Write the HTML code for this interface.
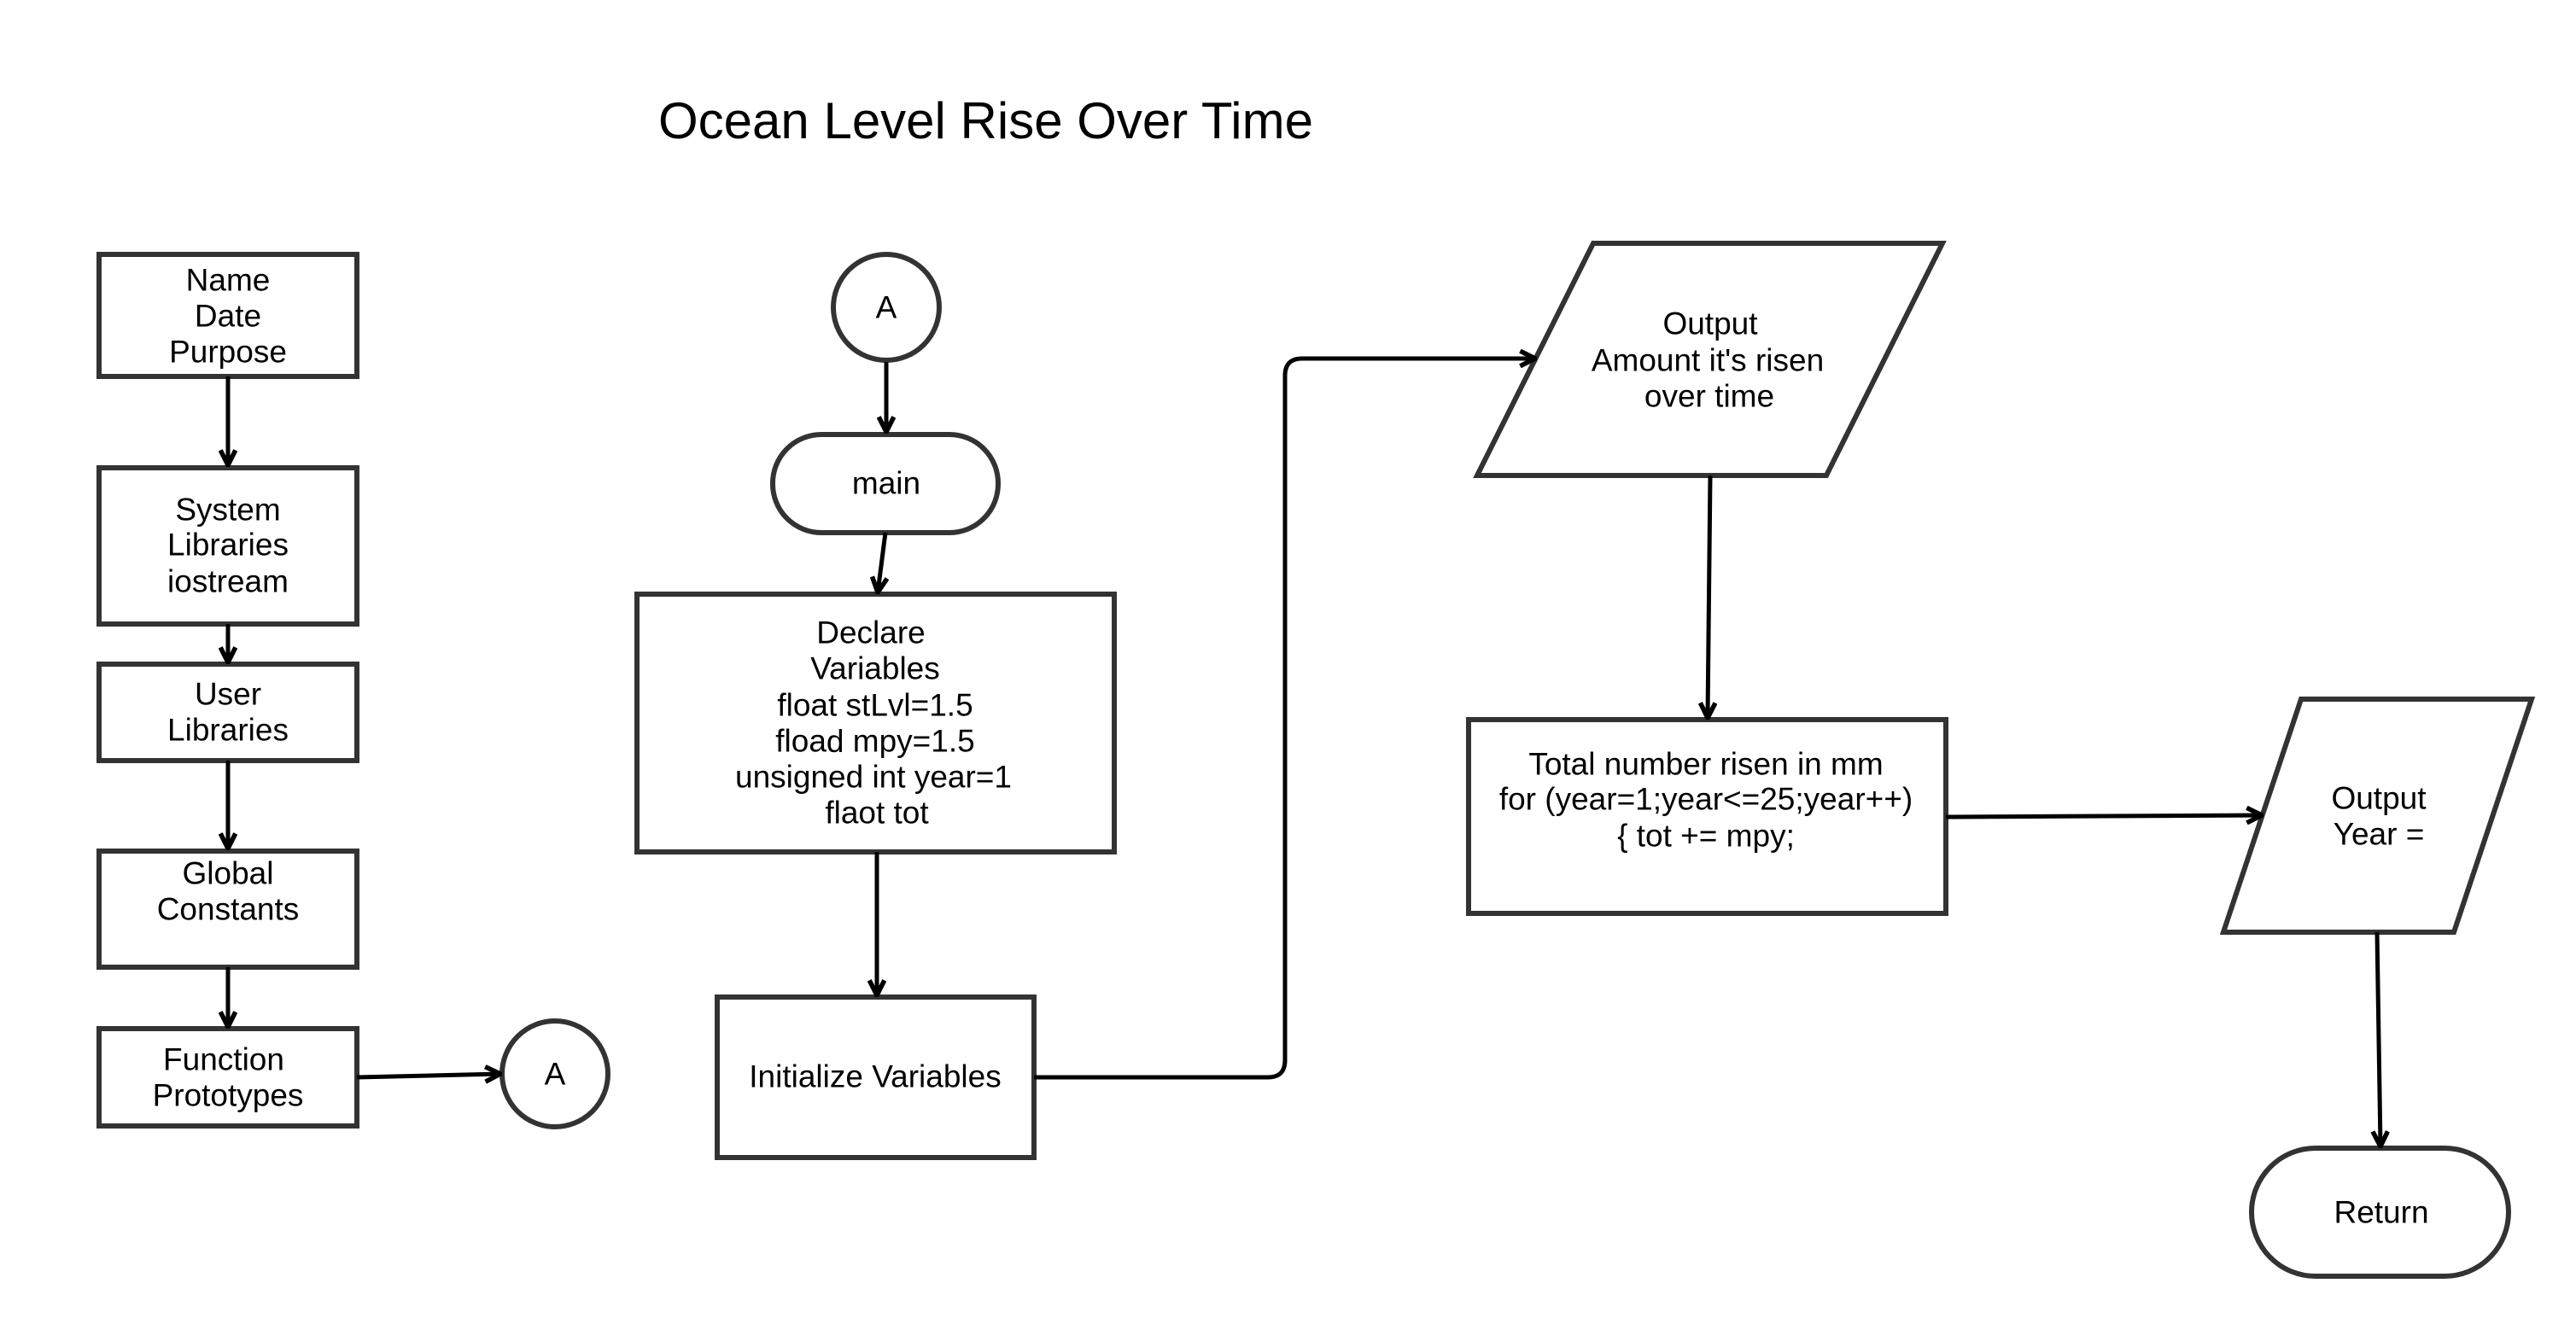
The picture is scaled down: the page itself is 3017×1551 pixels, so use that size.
<!DOCTYPE html>
<html><head><meta charset="utf-8"><style>html,body{margin:0;padding:0;background:#fff}svg{display:block}</style></head>
<body>
<svg width="3017" height="1551" viewBox="0 0 3017 1551" xmlns="http://www.w3.org/2000/svg" font-family="Liberation Sans, Arial, sans-serif">
<defs>
<marker id="ar" viewBox="0 0 20 20" refX="18" refY="10" markerWidth="22" markerHeight="22" markerUnits="userSpaceOnUse" orient="auto">
<path d="M2,2 L18,10 L2,18" fill="none" stroke="#000" stroke-width="5"/>
</marker>
</defs>
<rect width="3017" height="1551" fill="#fff"/>
<text x="771" y="162" font-size="60" fill="#000">Ocean Level Rise Over Time</text>

<g fill="#fff" stroke="#333" stroke-width="6">
<rect x="116" y="298" width="302" height="143"/>
<rect x="116" y="548" width="302" height="183"/>
<rect x="116" y="778" width="302" height="113"/>
<rect x="116" y="997" width="302" height="136"/>
<rect x="116" y="1205" width="302" height="114"/>
<circle cx="650" cy="1258" r="62"/>
<circle cx="1038" cy="360" r="62"/>
<rect x="905" y="509" width="264" height="115" rx="57"/>
<rect x="746" y="696" width="559" height="302"/>
<rect x="840" y="1168" width="371" height="188"/>
<polygon points="1866,285 2275,285 2139,557 1730,557"/>
<rect x="1720" y="843" width="559" height="227"/>
<polygon points="2695,819 2965,819 2874,1092 2604,1092"/>
<rect x="2637" y="1345" width="301" height="150" rx="75"/>
</g>

<g stroke="#000" stroke-width="5" fill="none" marker-end="url(#ar)">
<line x1="267" y1="441" x2="267" y2="545"/>
<line x1="267" y1="731" x2="267" y2="776"/>
<line x1="267" y1="891" x2="267" y2="994"/>
<line x1="267" y1="1133" x2="267" y2="1203"/>
<line x1="418" y1="1262" x2="586" y2="1258"/>
<line x1="1038" y1="424" x2="1038" y2="506"/>
<line x1="1037" y1="624" x2="1028" y2="694"/>
<line x1="1027" y1="998" x2="1027" y2="1166"/>
<path d="M1211,1262 L1485,1262 Q1505,1262 1505,1242 L1505,440 Q1505,420 1525,420 L1798,420"/>
<line x1="2003" y1="557" x2="2000" y2="841"/>
<line x1="2279" y1="957" x2="2649" y2="955"/>
<line x1="2784" y1="1092" x2="2788" y2="1343"/>
</g>

<g font-size="37" fill="#000" text-anchor="middle" dominant-baseline="central">
<text x="267" y="328">Name</text><text x="267" y="370">Date</text><text x="267" y="412">Purpose</text>
<text x="267" y="597">System</text><text x="267" y="638">Libraries</text><text x="267" y="681">iostream</text>
<text x="267" y="813">User</text><text x="267" y="855">Libraries</text>
<text x="267" y="1023">Global</text><text x="267" y="1065">Constants</text>
<text x="262" y="1241">Function</text><text x="267" y="1283">Prototypes</text>
<text x="650" y="1258">A</text>
<text x="1038" y="360">A</text>
<text x="1038" y="566">main</text>
<text x="1020" y="741">Declare</text><text x="1025" y="783">Variables</text><text x="1025" y="826">float stLvl=1.5</text><text x="1025" y="868">floa<tspan>d</tspan> mpy=1.5</text><text x="1023" y="910">unsigned int year=1</text><text x="1027" y="952">flaot tot</text>
<text x="1025" y="1261">Initialize Variables</text>
<text x="2003" y="379">Output</text><text x="2000" y="422">Amount it's risen</text><text x="2002" y="464">over time</text>
<text x="1998" y="895">Total number risen in mm</text><text x="1998" y="936">for (year=1;year&lt;=25;year++)</text><text x="1998" y="979">{ tot += mpy;</text>
<text x="2786" y="935">Output</text><text x="2786" y="977">Year =</text>
<text x="2789" y="1420">Return</text>
</g>
</svg>
</body></html>
